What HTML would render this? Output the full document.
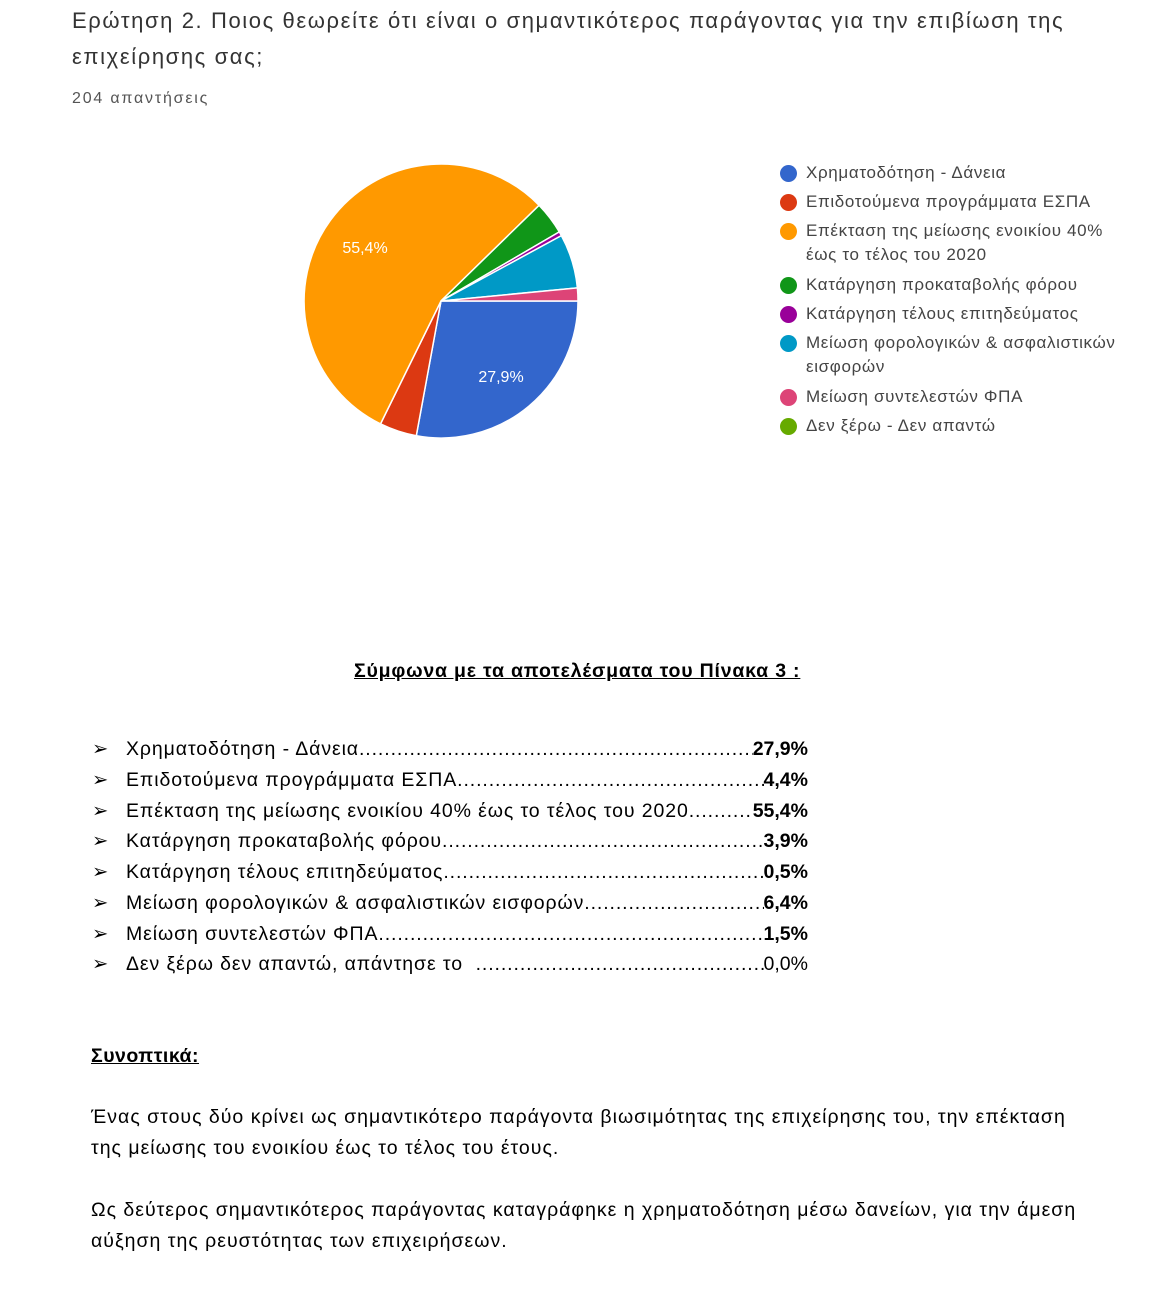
<!DOCTYPE html>
<html><head><meta charset="utf-8"><style>
body{margin:0;width:1158px;height:1292px;background:#fff;position:relative;font-family:"Liberation Sans",sans-serif;overflow:hidden}
.a{position:absolute;white-space:nowrap}
.t{font-size:22px;color:#333;left:72px;letter-spacing:1.6px}
.lg{font-size:17px;color:#444;left:806px;line-height:24px;letter-spacing:0.65px}
.dot{position:absolute;left:780px;width:17px;height:17px;border-radius:50%}
.li{position:absolute;left:92px;width:716px;font-size:19.5px;color:#000;display:flex;align-items:baseline;letter-spacing:0.9px}
.li .m{width:34px;letter-spacing:0}
.li .f{flex:1;overflow:hidden;white-space:nowrap}
.li .v{font-weight:bold;letter-spacing:0}
.p{font-size:19.5px;color:#000;left:91px;line-height:31px;letter-spacing:1px}
</style></head><body>
<div class="a t" style="top:8px">Ερώτηση 2. Ποιος θεωρείτε ότι είναι ο σημαντικότερος παράγοντας για την επιβίωση της</div>
<div class="a t" style="top:44px">επιχείρησης σας;</div>
<div class="a" style="left:72px;top:90px;font-size:16px;color:#555;letter-spacing:1.8px">204 απαντήσεις</div>
<svg class="a" style="left:0;top:0" width="1158" height="480">
<g stroke="#fff" stroke-width="1.5">
<path d="M441,301 L578,301 A137,137 0 0 1 416.3,435.8Z" fill="#3366cc"/>
<path d="M441,301 L416.3,435.8 A137,137 0 0 1 380.5,423.9Z" fill="#dc3912"/>
<path d="M441,301 L380.5,423.9 A137,137 0 1 1 539.1,205.3Z" fill="#ff9900"/>
<path d="M441,301 L539.1,205.3 A137,137 0 0 1 559.3,231.9Z" fill="#109618"/>
<path d="M441,301 L559.3,231.9 A137,137 0 0 1 561.4,235.6Z" fill="#990099"/>
<path d="M441,301 L561.4,235.6 A137,137 0 0 1 577.4,287.9Z" fill="#0099c6"/>
<path d="M441,301 L577.4,287.9 A137,137 0 0 1 578,301Z" fill="#dd4477"/>
</g>
<text x="365" y="253" fill="#fff" font-size="16" text-anchor="middle" font-family="Liberation Sans">55,4%</text>
<text x="501" y="382" fill="#fff" font-size="16" text-anchor="middle" font-family="Liberation Sans">27,9%</text>
</svg>
<div class="dot" style="top:165px;background:#3366cc"></div><div class="a lg" style="top:161px">Χρηματοδότηση - Δάνεια</div>
<div class="dot" style="top:194px;background:#dc3912"></div><div class="a lg" style="top:190px">Επιδοτούμενα προγράμματα ΕΣΠΑ</div>
<div class="dot" style="top:223px;background:#ff9900"></div><div class="a lg" style="top:219px">Επέκταση της μείωσης ενοικίου 40%<br>έως το τέλος του 2020</div>
<div class="dot" style="top:277px;background:#109618"></div><div class="a lg" style="top:273px">Κατάργηση προκαταβολής φόρου</div>
<div class="dot" style="top:306px;background:#990099"></div><div class="a lg" style="top:302px">Κατάργηση τέλους επιτηδεύματος</div>
<div class="dot" style="top:335px;background:#0099c6"></div><div class="a lg" style="top:331px">Μείωση φορολογικών &amp; ασφαλιστικών<br>εισφορών</div>
<div class="dot" style="top:389px;background:#dd4477"></div><div class="a lg" style="top:385px">Μείωση συντελεστών ΦΠΑ</div>
<div class="dot" style="top:418px;background:#66aa00"></div><div class="a lg" style="top:414px">Δεν ξέρω - Δεν απαντώ</div>

<div class="a" style="left:354px;top:660px;font-size:19.5px;font-weight:bold;text-decoration:underline;letter-spacing:0.8px">Σύμφωνα με τα αποτελέσματα του Πίνακα 3 :</div>

<div class="li" style="top:737px"><span class="m">➢</span><span class="f">Χρηματοδότηση - Δάνεια.....................................................................................................</span><span class="v">27,9%</span></div>
<div class="li" style="top:768px"><span class="m">➢</span><span class="f">Επιδοτούμενα προγράμματα ΕΣΠΑ.......................................................................................</span><span class="v">4,4%</span></div>
<div class="li" style="top:799px"><span class="m">➢</span><span class="f">Επέκταση της μείωσης ενοικίου 40% έως το τέλος του 2020............................</span><span class="v">55,4%</span></div>
<div class="li" style="top:829px"><span class="m">➢</span><span class="f">Κατάργηση προκαταβολής φόρου.......................................................................................</span><span class="v">3,9%</span></div>
<div class="li" style="top:860px"><span class="m">➢</span><span class="f">Κατάργηση τέλους επιτηδεύματος.......................................................................................</span><span class="v">0,5%</span></div>
<div class="li" style="top:891px"><span class="m">➢</span><span class="f">Μείωση φορολογικών &amp; ασφαλιστικών εισφορών...............................................................</span><span class="v">6,4%</span></div>
<div class="li" style="top:922px"><span class="m">➢</span><span class="f">Μείωση συντελεστών ΦΠΑ...................................................................................................</span><span class="v">1,5%</span></div>
<div class="li" style="top:952px"><span class="m">➢</span><span class="f">Δεν ξέρω δεν απαντώ, απάντησε το &nbsp;.......................................................................................</span><span style="letter-spacing:0">0,0%</span></div>

<div class="a" style="left:91px;top:1045px;font-size:19.5px;font-weight:bold;text-decoration:underline;letter-spacing:0.5px">Συνοπτικά:</div>
<div class="a p" style="top:1102px">Ένας στους δύο κρίνει ως σημαντικότερο παράγοντα βιωσιμότητας της επιχείρησης του, την επέκταση<br>της μείωσης του ενοικίου έως το τέλος του έτους.</div>
<div class="a p" style="top:1195px">Ως δεύτερος σημαντικότερος παράγοντας καταγράφηκε η χρηματοδότηση μέσω δανείων, για την άμεση<br>αύξηση της ρευστότητας των επιχειρήσεων.</div>
</body></html>
